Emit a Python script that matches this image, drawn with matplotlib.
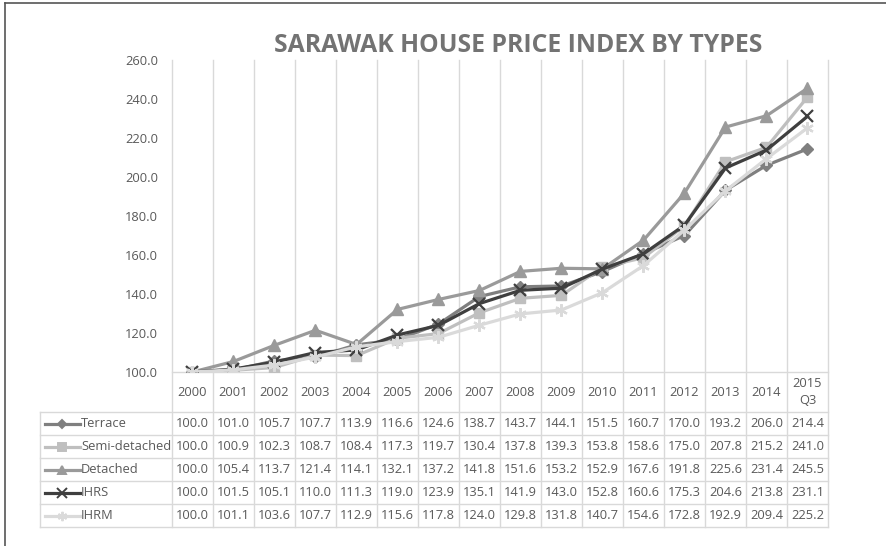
import matplotlib
matplotlib.use("Agg")
import matplotlib.pyplot as plt
from matplotlib.lines import Line2D
from matplotlib.transforms import blended_transform_factory

plt.rcParams["font.family"] = ["Open Sans", "DejaVu Sans"]

years = ["2000", "2001", "2002", "2003", "2004", "2005", "2006", "2007",
         "2008", "2009", "2010", "2011", "2012", "2013", "2014", "2015\nQ3"]

terrace = [100.0, 101.0, 105.7, 107.7, 113.9, 116.6, 124.6, 138.7,
           143.7, 144.1, 151.5, 160.7, 170.0, 193.2, 206.0, 214.4]
semi_detached = [100.0, 100.9, 102.3, 108.7, 108.4, 117.3, 119.7, 130.4,
                 137.8, 139.3, 153.8, 158.6, 175.0, 207.8, 215.2, 241.0]
detached = [100.0, 105.4, 113.7, 121.4, 114.1, 132.1, 137.2, 141.8,
            151.6, 153.2, 152.9, 167.6, 191.8, 225.6, 231.4, 245.5]
ihrs = [100.0, 101.5, 105.1, 110.0, 111.3, 119.0, 123.9, 135.1,
        141.9, 143.0, 152.8, 160.6, 175.3, 204.6, 213.8, 231.1]
ihrm = [100.0, 101.1, 103.6, 107.7, 112.9, 115.6, 117.8, 124.0,
        129.8, 131.8, 140.7, 154.6, 172.8, 192.9, 209.4, 225.2]

series = [
    ("Terrace", terrace, "#7f7f7f", "D", 6),
    ("Semi-detached", semi_detached, "#bfbfbf", "s", 7),
    ("Detached", detached, "#9a9a9a", "^", 8),
    ("IHRS", ihrs, "#3f3f3f", "x", 9),
    ("IHRM", ihrm, "#dadada", (6, 2, 0), 9),
]

W, H = 887, 546
TXT = "#595959"
GRID = "#d9d9d9"
FS = 9.3


def fy(py):
    # pixel row from the top -> figure fraction
    return 1 - py / H


fig = plt.figure(figsize=(W / 100, H / 100), dpi=100)
ax = fig.add_axes([172 / W, fy(372), (828 - 172) / W, (372 - 60) / H])

x = list(range(len(years)))
for name, vals, color, marker, ms in series:
    ax.plot(x, vals, color=color, lw=2.3, marker=marker, ms=ms,
            mew=1.6 if marker == "x" or isinstance(marker, tuple) else 1,
            zorder=3)

ax.set_xlim(-0.5, len(years) - 0.5)
ax.set_ylim(100, 260)
ax.set_yticks(range(100, 261, 20))
ax.set_yticklabels([f"{v:.1f}" for v in range(100, 261, 20)])
ax.tick_params(axis="y", length=0, pad=10, labelsize=FS, labelcolor=TXT)
ax.set_xticks([])
for s in ax.spines.values():
    s.set_visible(False)

# vertical gridlines running through the table
tb = blended_transform_factory(ax.transData, fig.transFigure)
for k in range(len(years) + 1):
    ax.add_line(Line2D([k - 0.5, k - 0.5], [fy(60), fy(527)], transform=tb,
                       color=GRID, lw=1, clip_on=False, zorder=1))
ax.add_line(Line2D([-0.5, len(years) - 0.5], [fy(372), fy(372)], transform=tb,
                   color=GRID, lw=1, clip_on=False, zorder=1))

# data table
row_top = 412
row_h = 23
for r in range(len(series) + 1):
    yy = fy(row_top + r * row_h)
    fig.add_artist(Line2D([40 / W, 828 / W], [yy, yy], color=GRID, lw=1))
fig.add_artist(Line2D([40 / W, 40 / W], [fy(row_top), fy(row_top + 5 * row_h)],
                      color=GRID, lw=1))

for k, yr in enumerate(years):
    ax.text(k, fy(392), yr, transform=tb, ha="center", va="center",
            fontsize=FS, color=TXT, linespacing=1.4)

for r, (name, vals, color, marker, ms) in enumerate(series):
    yc = fy(row_top + r * row_h + row_h / 2)
    fig.add_artist(Line2D([45 / W, 80 / W], [yc, yc], color=color, lw=2.3,
                          marker=None))
    fig.add_artist(Line2D([62.5 / W], [yc], color=color, marker=marker,
                          ms=ms * 0.75, mew=1.4, lw=0))
    fig.text(81 / W, yc, name, ha="left", va="center", fontsize=FS, color=TXT)
    for k, v in enumerate(vals):
        ax.text(k, yc, f"{v:.1f}", transform=tb, ha="center", va="center",
                fontsize=FS, color=TXT)

fig.text(518 / W, fy(45), "SARAWAK HOUSE PRICE INDEX BY TYPES", ha="center",
         va="center", fontsize=17.8, fontweight="bold", color="#737373")

# outer frame (left and top only, as in the source crop)
fig.add_artist(Line2D([5 / W, 5 / W], [0, fy(3)], color="#555555", lw=1.2))
fig.add_artist(Line2D([5 / W, 1], [fy(3), fy(3)], color="#555555", lw=1.2))

fig.savefig("out.png", dpi=100)
